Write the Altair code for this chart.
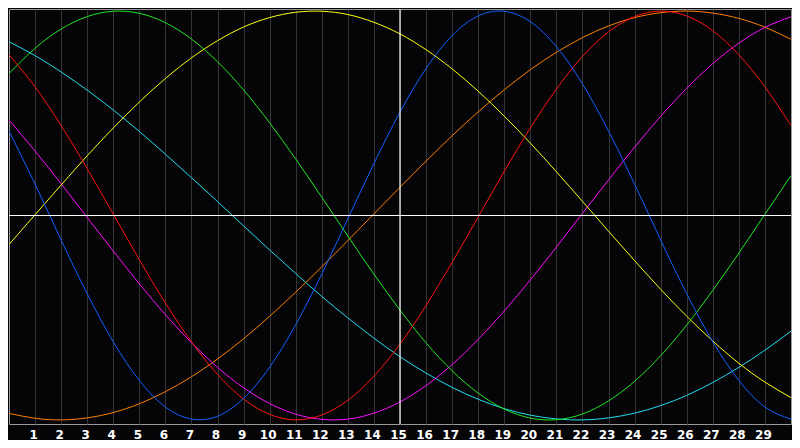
import altair as alt
import pandas as pd

days = list(range(0, 31))
tick_days = list(range(1, 30))

blue = [0.413, 0.153, -0.120, -0.383, -0.618, -0.807, -0.937, -0.996, -0.982, -0.895,
        -0.742, -0.534, -0.286, -0.016, 0.254, 0.506, 0.719, 0.880, 0.976, 0.999,
        0.948, 0.826, 0.644, 0.413, 0.153, -0.120, -0.383, -0.618, -0.807, -0.937, -0.996]
red = [0.786, 0.629, 0.440, 0.229, 0.007, -0.216, -0.428, -0.618, -0.778, -0.898,
       -0.973, -1.000, -0.976, -0.904, -0.786, -0.629, -0.440, -0.229, -0.007, 0.216,
       0.428, 0.618, 0.778, 0.898, 0.973, 1.000, 0.976, 0.904, 0.786, 0.629, 0.440]
green = [0.694, 0.818, 0.912, 0.973, 0.999, 0.989, 0.943, 0.863, 0.752, 0.614,
         0.453, 0.276, 0.089, -0.101, -0.287, -0.463, -0.623, -0.760, -0.869, -0.947,
         -0.991, -0.999, -0.971, -0.907, -0.811, -0.686, -0.536, -0.366, -0.184, 0.006, 0.195]
magenta = [0.467, 0.315, 0.155, -0.010, -0.174, -0.334, -0.485, -0.622, -0.743, -0.843,
           -0.920, -0.972, -0.997, -0.996, -0.967, -0.912, -0.832, -0.729, -0.606, -0.467,
           -0.315, -0.155, 0.010, 0.174, 0.334, 0.485, 0.622, 0.743, 0.843, 0.920, 0.972]
yellow = [-0.142, 0.004, 0.149, 0.292, 0.428, 0.555, 0.670, 0.771, 0.855, 0.922,
          0.968, 0.994, 0.999, 0.983, 0.945, 0.888, 0.811, 0.717, 0.608, 0.486,
          0.354, 0.214, 0.069, -0.077, -0.221, -0.361, -0.493, -0.614, -0.723, -0.815, -0.891]
orange = [-0.968, -0.992, -1.000, -0.990, -0.964, -0.921, -0.862, -0.789, -0.702, -0.603,
          -0.493, -0.375, -0.251, -0.123, 0.008, 0.138, 0.266, 0.390, 0.507, 0.615,
          0.713, 0.798, 0.870, 0.927, 0.968, 0.992, 1.000, 0.990, 0.964, 0.921, 0.862]
cyan = [0.850, 0.782, 0.702, 0.613, 0.516, 0.411, 0.300, 0.185, 0.068, -0.051,
        -0.169, -0.284, -0.396, -0.501, -0.600, -0.691, -0.771, -0.841, -0.899, -0.945,
        -0.977, -0.995, -1.000, -0.990, -0.967, -0.930, -0.880, -0.817, -0.743, -0.659, -0.566]

series_names = ["cyan", "orange", "magenta", "yellow", "green", "red", "blue"]
series_values = [cyan, orange, magenta, yellow, green, red, blue]
series_colors = ["#22dded", "#ff8000", "#ff10ff", "#ffff10", "#22e622", "#ff1010", "#1060ff"]

rows = []
for name, vals in zip(series_names, series_values):
    for d, v in zip(days, vals):
        rows.append({"day": d, "v": v, "s": name})
df = pd.DataFrame(rows)

xs = alt.Scale(domain=[0, 30], nice=False, zero=False)
ys = alt.Scale(domain=[-1.02, 1.01], nice=False, zero=False)
x_axis = alt.Axis(values=tick_days, title=None, domain=False, ticks=False,
                  grid=True, gridColor="#363636", gridWidth=1, gridOpacity=1,
                  labelColor="white", labelFont="DejaVu Sans", labelFontWeight="bold",
                  labelFontSize=12, labelPadding=5, labelOffset=-2, labelAngle=0,
                  format="d")

lines = alt.Chart(df).mark_line(strokeWidth=1, interpolate="natural", clip=True).encode(
    x=alt.X("day:Q", scale=xs, axis=x_axis),
    y=alt.Y("v:Q", scale=ys, axis=None),
    color=alt.Color("s:N", scale=alt.Scale(domain=series_names, range=series_colors), legend=None),
    order=alt.Order("s:N"),
)

hrule = alt.Chart(pd.DataFrame({"v": [0]})).mark_rule(color="white", strokeWidth=1.2).encode(
    y=alt.Y("v:Q", scale=ys, axis=None)
)
vrule = alt.Chart(pd.DataFrame({"day": [15]})).mark_rule(color="white", strokeWidth=1.2).encode(
    x=alt.X("day:Q", scale=xs, axis=x_axis)
)

chart = alt.layer(lines, hrule, vrule).properties(
    width=784, height=432,
    autosize=alt.AutoSizeParams(type="fit", contains="padding"),
    padding=0,
    background="#050508",
).configure_view(stroke="#9a9a9a", strokeWidth=1)

chart.save("out.html", embed_options={"renderer": "svg", "actions": False})
